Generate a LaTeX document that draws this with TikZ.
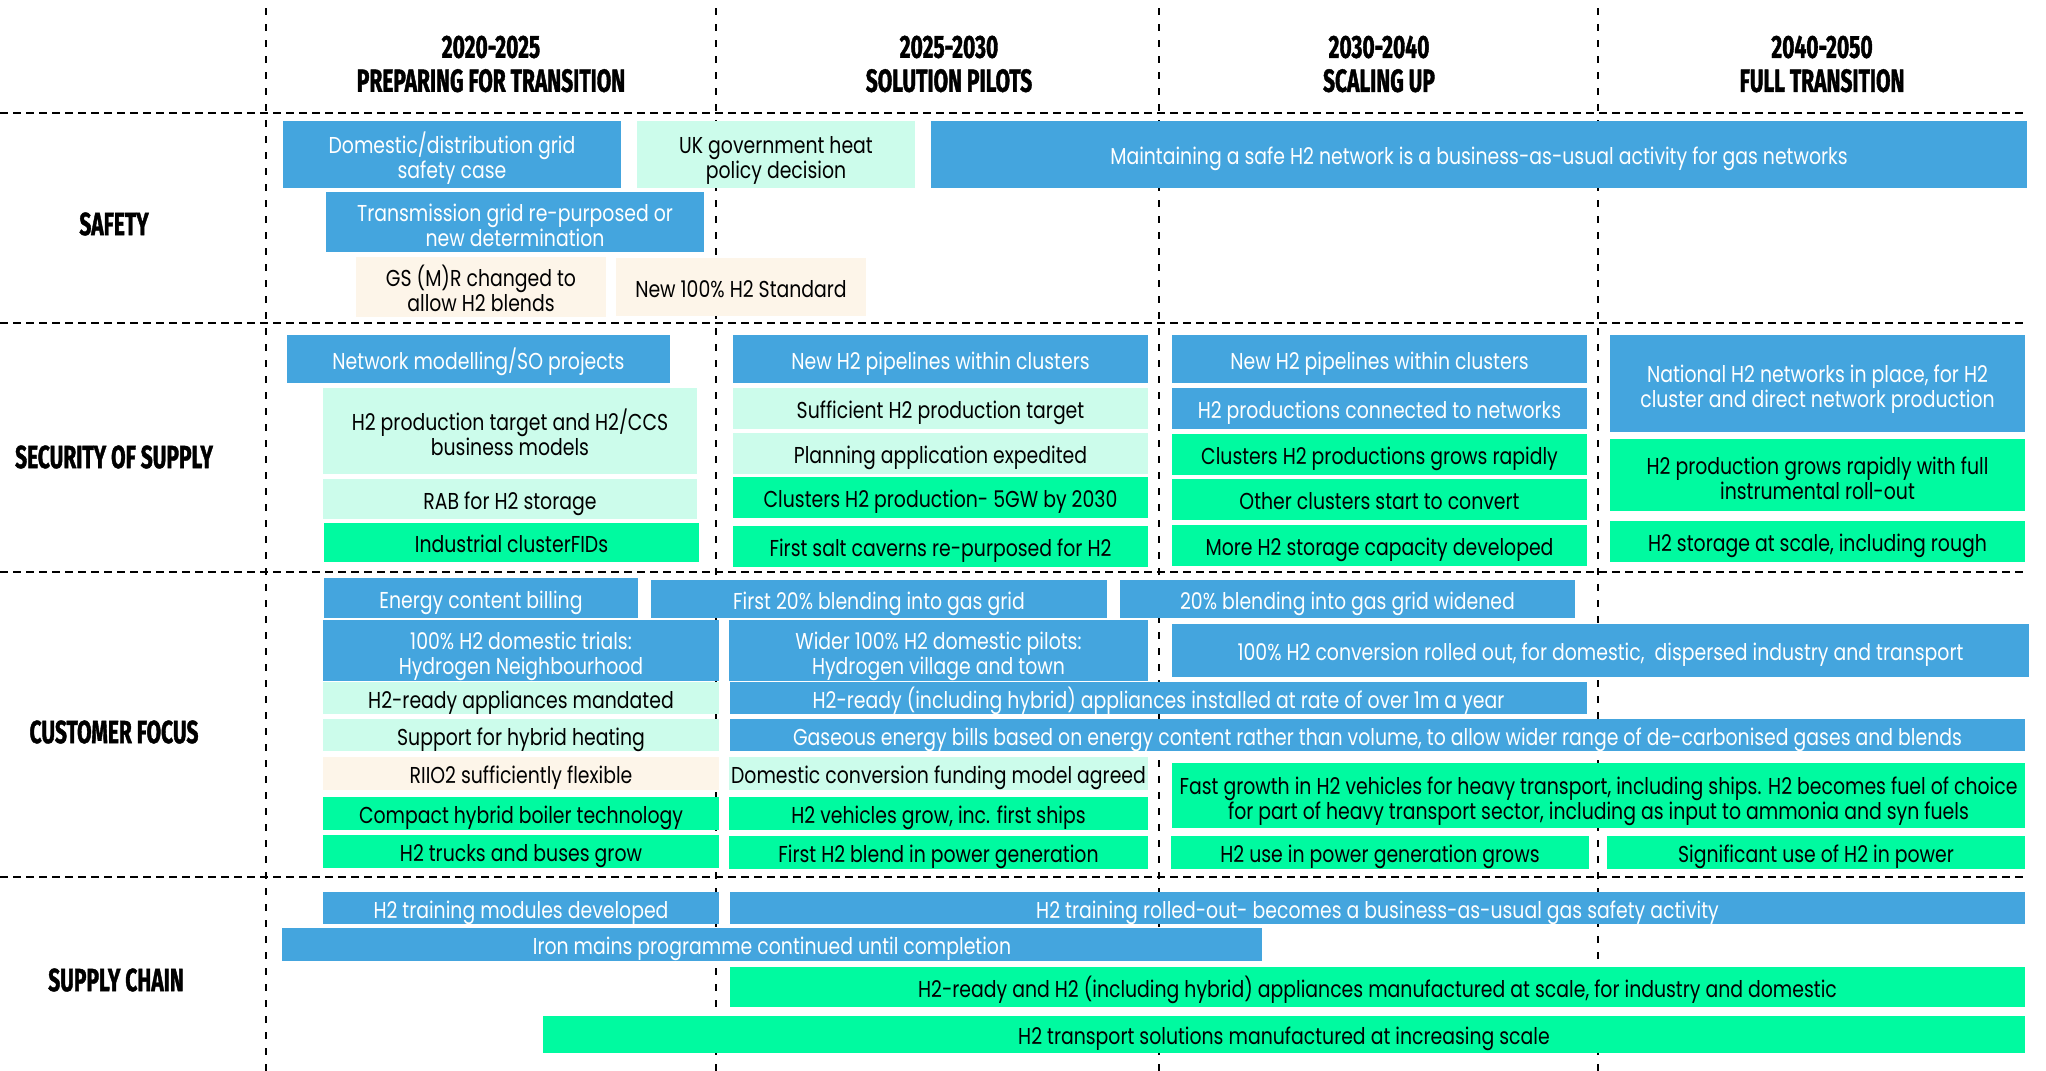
\documentclass[tikz,border=0pt]{standalone}
\usepackage{fontspec}
\setmainfont{Poppins}[FakeStretch=0.82]
\newfontfamily\headfont{Fira Sans}[FakeStretch=0.655, FakeBold=1.2]
\definecolor{gridblue}{RGB}{68,165,222}
\definecolor{gridmint}{RGB}{204,252,235}
\definecolor{gridgreen}{RGB}{0,250,160}
\definecolor{gridcream}{RGB}{253,245,233}
\newcommand{\mstrut}{\rule[-0.25em]{0pt}{1.4em}}
\tikzset{
  milestone/.style={inner sep=0pt, outer sep=0pt, align=center, font=\fontsize{11.5}{12.5}\selectfont,
    execute at begin node=\mstrut, execute at end node=\mstrut},
  twolines/.style={execute at begin node=\rule{0pt}{2.35em}},
  bluebox/.style={milestone, fill=gridblue, text=white},
  mintbox/.style={milestone, fill=gridmint},
  greenbox/.style={milestone, fill=gridgreen},
  creambox/.style={milestone, fill=gridcream},
  heading/.style={align=center, font=\headfont\bfseries\fontsize{16}{17}\selectfont},
  hline/.style={line width=1pt, dash pattern=on 4pt off 2.5pt},
  vline/.style={line width=1pt, dash pattern=on 3.5pt off 4.5pt},
}
% box from (x1,y1) to (x2,y2), in pixels of the grid
\newcommand{\mstone}[7]{%
  \node[#1, minimum width={(#5-#3)*0.5pt}, minimum height={(#6-#4)*0.5pt}]
    (#2) at ({(#3+#5)/2},{(#4+#6)/2}) {#7};}
\begin{document}
\begin{tikzpicture}[x=0.5pt, y=-0.5pt]
		\useasboundingbox (0,0) rectangle (2046,1071);
		% grid
			\foreach \y in {113,323,572,877}
				\draw[hline] (0,\y) -- (2027,\y);
			\foreach \x in {266,716,1159,1598}
				\draw[vline] (\x,8) -- (\x,1071);
		% periods
			\node[heading] (p1) at (491,64) {2020-2025\\PREPARING FOR TRANSITION};
			\node[heading] (p2) at (949,64) {2025-2030\\SOLUTION PILOTS};
			\node[heading] (p3) at (1379,64) {2030-2040\\SCALING UP};
			\node[heading] (p4) at (1822,64) {2040-2050\\FULL TRANSITION};
		% themes
			\node[heading] (safety) at (114,224) {SAFETY};
			\node[heading] (supply) at (114,457) {SECURITY OF SUPPLY};
			\node[heading] (customer) at (114,732) {CUSTOMER FOCUS};
			\node[heading] (chain) at (116,980) {SUPPLY CHAIN};
		% safety
			\mstone{bluebox,twolines}{sf1}{283}{121}{621}{188}{Domestic/distribution grid\\safety case}
			\mstone{mintbox,twolines}{sf2}{637}{121}{915}{188}{UK government heat\\policy decision}
			\mstone{bluebox}{sf3}{931}{121}{2027}{188}{Maintaining a safe H2 network is a business-as-usual activity for gas networks}
			\mstone{bluebox,twolines}{sf4}{326}{193}{704}{251}{Transmission grid re-purposed or\\new determination}
			\mstone{creambox,twolines}{sf5}{356}{258}{606}{316}{GS (M)R changed to\\allow H2 blends}
			\mstone{creambox}{sf6}{616}{258}{866}{316}{New 100\% H2 Standard}
		% security of supply
			\mstone{bluebox}{ss1}{287}{335}{670}{383}{Network modelling/SO projects}
			\mstone{mintbox,twolines}{ss2}{323}{388}{697}{474}{H2 production target and H2/CCS\\business models}
			\mstone{mintbox}{ss3}{323}{479}{697}{519}{RAB for H2 storage}
			\mstone{greenbox}{ss4}{324}{523}{699}{562}{Industrial clusterFIDs}
			\mstone{bluebox}{ss5}{733}{335}{1148}{383}{New H2 pipelines within clusters}
			\mstone{mintbox}{ss6}{733}{388}{1148}{429}{Sufficient H2 production target}
			\mstone{mintbox}{ss7}{733}{433}{1148}{474}{Planning application expedited}
			\mstone{greenbox}{ss8}{733}{477}{1148}{518}{Clusters H2 production- 5GW by 2030}
			\mstone{greenbox}{ss9}{733}{526}{1148}{567}{First salt caverns re-purposed for H2}
			\mstone{bluebox}{ss10}{1172}{335}{1587}{383}{New H2 pipelines within clusters}
			\mstone{bluebox}{ss11}{1172}{388}{1587}{429}{H2 productions connected to networks}
			\mstone{greenbox}{ss12}{1172}{434}{1587}{475}{Clusters H2 productions grows rapidly}
			\mstone{greenbox}{ss13}{1172}{479}{1587}{520}{Other clusters start to convert}
			\mstone{greenbox}{ss14}{1172}{525}{1587}{566}{More H2 storage capacity developed}
			\mstone{bluebox,twolines}{ss15}{1610}{335}{2025}{432}{National H2 networks in place, for H2\\cluster and direct network production}
			\mstone{greenbox,twolines}{ss16}{1610}{439}{2025}{511}{H2 production grows rapidly with full\\instrumental roll-out}
			\mstone{greenbox}{ss17}{1610}{521}{2025}{562}{H2 storage at scale, including rough}
		% customer focus
			\mstone{bluebox}{cf1}{324}{578}{638}{618}{Energy content billing}
			\mstone{bluebox}{cf2}{651}{580}{1107}{618}{First 20\% blending into gas grid}
			\mstone{bluebox}{cf3}{1120}{580}{1575}{618}{20\% blending into gas grid widened}
			\mstone{bluebox,twolines}{cf4}{323}{624}{719}{677}{100\% H2 domestic trials:\\Hydrogen Neighbourhood}
			\mstone{bluebox,twolines}{cf5}{729}{624}{1148}{677}{Wider 100\% H2 domestic pilots:\\Hydrogen village and town}
			\mstone{bluebox}{cf6}{1172}{624}{2029}{677}{100\% H2 conversion rolled out, for domestic,~ dispersed industry and transport}
			\mstone{mintbox}{cf7}{323}{682}{719}{714}{H2-ready appliances mandated}
			\mstone{bluebox}{cf8}{730}{682}{1587}{714}{H2-ready (including hybrid) appliances installed at rate of over 1m a year}
			\mstone{mintbox}{cf9}{323}{719}{719}{751}{Support for hybrid heating}
			\mstone{bluebox}{cf10}{730}{719}{2025}{751}{Gaseous energy bills based on energy content rather than volume, to allow wider range of de-carbonised gases and blends}
			\mstone{creambox}{cf11}{323}{758}{719}{789}{RIIO2 sufficiently flexible}
			\mstone{mintbox}{cf12}{729}{758}{1148}{789}{Domestic conversion funding model agreed}
			\mstone{greenbox}{cf13}{323}{798}{719}{829}{Compact hybrid boiler technology}
			\mstone{greenbox}{cf14}{729}{798}{1148}{829}{H2 vehicles grow, inc. first ships}
			\mstone{greenbox,twolines}{cf15}{1172}{763}{2025}{828}{Fast growth in H2 vehicles for heavy transport, including ships. H2 becomes fuel of choice\\for part of heavy transport sector, including as input to ammonia and syn fuels}
			\mstone{greenbox}{cf16}{323}{836}{719}{867}{H2 trucks and buses grow}
			\mstone{greenbox}{cf17}{729}{837}{1148}{868}{First H2 blend in power generation}
			\mstone{greenbox}{cf18}{1171}{837}{1589}{868}{H2 use in power generation grows}
			\mstone{greenbox}{cf19}{1607}{837}{2025}{868}{Significant use of H2 in power}
		% supply chain
			\mstone{bluebox}{sc1}{323}{892}{719}{924}{H2 training modules developed}
			\mstone{bluebox}{sc2}{730}{892}{2025}{924}{H2 training rolled-out- becomes a business-as-usual gas safety activity}
			\mstone{bluebox}{sc3}{282}{929}{1262}{960}{Iron mains programme continued until completion}
			\mstone{greenbox}{sc4}{730}{967}{2025}{1007}{H2-ready and H2 (including hybrid) appliances manufactured at scale, for industry and domestic}
			\mstone{greenbox}{sc5}{543}{1016}{2025}{1053}{H2 transport solutions manufactured at increasing scale}
	\end{tikzpicture}
\end{document}
